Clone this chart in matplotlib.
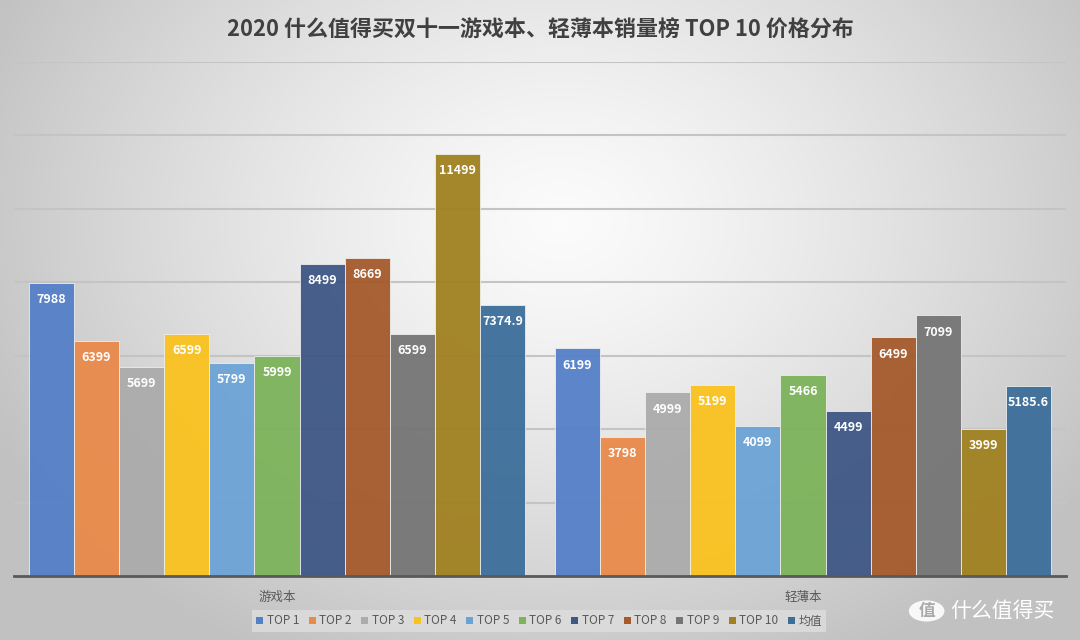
import numpy as np
import matplotlib
matplotlib.use("Agg")
import matplotlib.pyplot as plt
from matplotlib.patches import Patch, Circle

plt.rcParams['font.family'] = ['Noto Sans CJK SC', 'DejaVu Sans']

categories = ["游戏本", "轻薄本"]
series_names = ["TOP 1", "TOP 2", "TOP 3", "TOP 4", "TOP 5", "TOP 6",
                "TOP 7", "TOP 8", "TOP 9", "TOP 10", "均值"]
gaming = [7988, 6399, 5699, 6599, 5799, 5999, 8499, 8669, 6599, 11499, 7374.9]
ultrabook = [6199, 3798, 4999, 5199, 4099, 5466, 4499, 6499, 7099, 3999, 5185.6]
labels_gaming = ["7988", "6399", "5699", "6599", "5799", "5999", "8499", "8669", "6599", "11499", "7374.9"]
labels_ultra = ["6199", "3798", "4999", "5199", "4099", "5466", "4499", "6499", "7099", "3999", "5185.6"]
colors = ["#5580C8", "#EA8A4A", "#ABABAB", "#FAC21E", "#6CA3D6", "#7DB35A",
          "#3E5785", "#A45A2B", "#757575", "#A08020", "#3C6E9A"]
title = "2020 什么值得买双十一游戏本、轻薄本销量榜 TOP 10 价格分布"

fig = plt.figure(figsize=(10.8, 6.4), dpi=100)

# radial gradient background
bg = fig.add_axes([0, 0, 1, 1], zorder=-10)
yy, xx = np.mgrid[0:640, 0:1080]
r = np.sqrt(((xx - 560) / 720.0) ** 2 + ((yy - 220) / 560.0) ** 2)
val = np.clip(0.985 - 0.27 * r ** 1.3, 0.76, 0.985)
bg.imshow(np.dstack([val, val, val]), aspect='auto', extent=[0, 1, 0, 1])
bg.axis('off')

ax = fig.add_axes([14 / 1080, 64 / 640, 1052 / 1080, (576 - 62) / 640])
ax.set_facecolor('none')
n = len(series_names)
cat_x = np.arange(len(categories))
w = 1.0 / (n + 0.66)
data = np.array([gaming, ultrabook])
labs = [labels_gaming, labels_ultra]
for i in range(n):
    xs = cat_x - (n * w) / 2 + w * (i + 0.5)
    bars = ax.bar(xs, data[:, i], width=w, color=colors[i], alpha=0.95,
                  edgecolor='#f0f0f0', linewidth=0.6, zorder=3)
    for j, b in enumerate(bars):
        ax.annotate(labs[j][i], (b.get_x() + b.get_width() / 2, b.get_height()),
                    xytext=(0, -12), textcoords='offset points', ha='center', va='center',
                    color='white', fontsize=9, fontweight='bold', zorder=4)

ax.set_xlim(-0.5, 1.5)
ax.set_ylim(0, 14000)
ax.set_yticks(np.arange(0, 14001, 2000))
ax.yaxis.grid(True, color='#c4c4c4', linewidth=1.5, zorder=0)
ax.set_axisbelow(True)
ax.tick_params(axis='y', left=False, labelleft=False)
ax.tick_params(axis='x', bottom=False, labelsize=9, labelcolor='#595959', pad=7)
ax.set_xticks(cat_x)
ax.set_xticklabels(categories)
for s in ['top', 'right', 'left']:
    ax.spines[s].set_visible(False)
ax.spines['bottom'].set_color('#595959')
ax.spines['bottom'].set_linewidth(2)
ax.spines['bottom'].set_zorder(5)

fig.text(0.5, 1 - 30 / 640, title, ha='center', va='center', fontsize=15.8,
         fontweight='bold', color='#404040')

handles = [Patch(facecolor=c, edgecolor='none') for c in colors]
leg = fig.legend(handles, series_names, loc='center', bbox_to_anchor=(539 / 1080, 1 - 621 / 640),
                 ncol=n, fontsize=8.5, frameon=True, handlelength=0.6, handleheight=0.6,
                 columnspacing=0.8, handletextpad=0.3, borderpad=0.35, fancybox=False)
leg.get_frame().set_facecolor('#dedede')
leg.get_frame().set_edgecolor('none')
for t in leg.get_texts():
    t.set_color('#595959')

# watermark
fig.patches.append(Circle((0.858, 1 - 611 / 640), 0.0165, transform=fig.transFigure,
                          facecolor='white', edgecolor='none', alpha=0.9, figure=fig))
fig.text(0.858, 1 - 611 / 640, "值", ha='center', va='center', fontsize=12,
         color='#aaaaaa', fontweight='bold')
fig.text(0.88, 1 - 611 / 640, "什么值得买", ha='left', va='center', fontsize=15,
         color='white')

fig.savefig('out.png', dpi=100)
